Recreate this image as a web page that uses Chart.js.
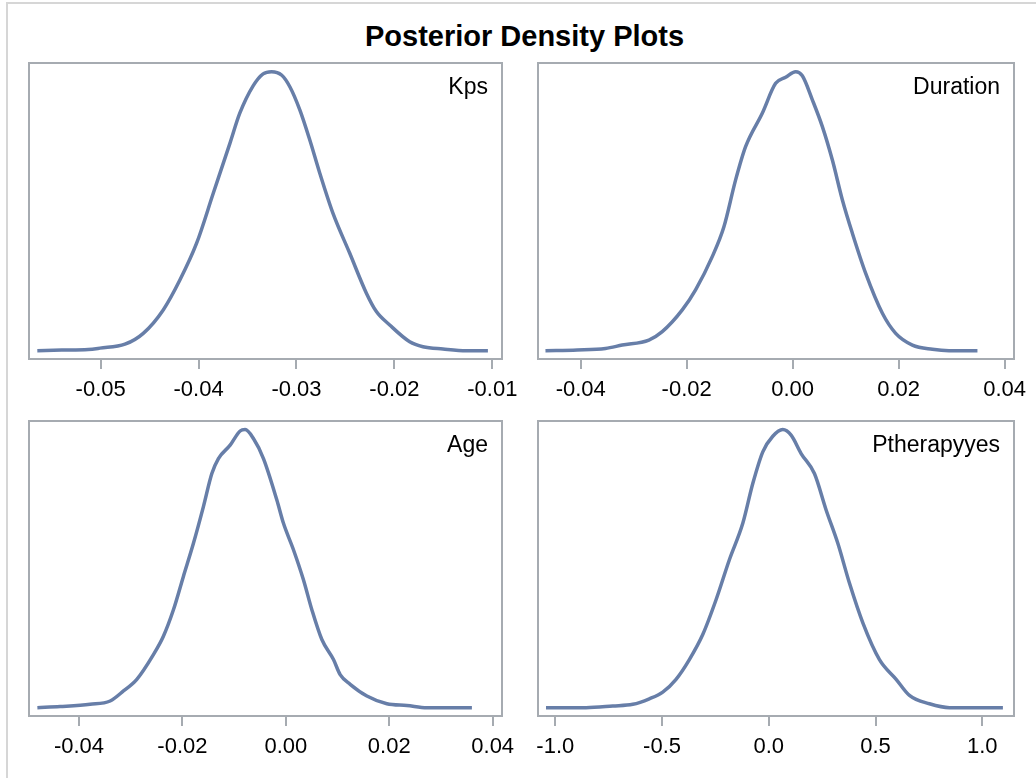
<!DOCTYPE html>
<html>
<head>
<meta charset="utf-8">
<script src="https://cdn.jsdelivr.net/npm/chart.js@4.4.0/dist/chart.umd.min.js"></script>
<style>
  body { margin: 0; background: #fff; width: 1036px; height: 778px; overflow: hidden; position: relative; font-family: "Liberation Sans", Arial, sans-serif; }
  #frame { position: absolute; left: 6px; top: 2px; width: 1100px; height: 900px; border-left: 2px solid #d6d6d6; border-top: 2px solid #d6d6d6; }
  #title { position: absolute; left: 0; width: 1049px; top: 22px; text-align: center; font-size: 29px; line-height: 29px; font-weight: bold; color: #000; }
  canvas { position: absolute; }
</style>
</head>
<body>
<div id="frame"></div>
<div id="title">Posterior Density Plots</div>
<canvas id="c1" style="left:0;top:50px" width="540" height="349"></canvas>
<canvas id="c2" style="left:509px;top:50px" width="527" height="349"></canvas>
<canvas id="c3" style="left:0;top:408px" width="540" height="348"></canvas>
<canvas id="c4" style="left:509px;top:408px" width="527" height="348"></canvas>
<script>
// density curves, x = parameter value, y = density scaled so the peak is 1
var kpsX = [-0.05647, -0.05398, -0.05127, -0.05007, -0.04752, -0.04565, -0.04361, -0.04191, -0.0402, -0.0385, -0.0368, -0.03579, -0.03443, -0.03341, -0.03255, -0.03153, -0.03068, -0.02966, -0.02864, -0.02762, -0.02627, -0.02456, -0.02286, -0.02184, -0.02048, -0.01844, -0.01708, -0.01504, -0.01265, -0.01045];
var kpsY = [0, 0.002, 0.004, 0.009, 0.023, 0.062, 0.146, 0.253, 0.385, 0.564, 0.743, 0.851, 0.949, 0.992, 1.0, 0.988, 0.946, 0.863, 0.755, 0.636, 0.492, 0.349, 0.206, 0.140, 0.092, 0.032, 0.014, 0.006, 0, 0];

var durX = [-0.04665, -0.04066, -0.03532, -0.03217, -0.02713, -0.02461, -0.02083, -0.01832, -0.01517, -0.01297, -0.01076, -0.00888, -0.00573, -0.00321, -0.00132, 0.00057, 0.00183, 0.00372, 0.00561, 0.0075, 0.00939, 0.01127, 0.01379, 0.01694, 0.01945, 0.0226, 0.02638, 0.02952, 0.03488];
var durY = [0, 0.0025, 0.008, 0.020, 0.038, 0.068, 0.146, 0.218, 0.337, 0.444, 0.612, 0.731, 0.851, 0.958, 0.980, 1.0, 0.985, 0.899, 0.803, 0.683, 0.540, 0.421, 0.277, 0.134, 0.062, 0.020, 0.005, 0, 0];

var ageX = [-0.04805, -0.04366, -0.03785, -0.03398, -0.03141, -0.02882, -0.02561, -0.02368, -0.02174, -0.01981, -0.01787, -0.01594, -0.01431, -0.01304, -0.01077, -0.00884, -0.00787, -0.00627, -0.00433, -0.00174, -0.00046, 0.00147, 0.0034, 0.00503, 0.00696, 0.00921, 0.0105, 0.01244, 0.01567, 0.01954, 0.0234, 0.02727, 0.03598];
var ageY = [0, 0.004, 0.012, 0.024, 0.060, 0.102, 0.191, 0.257, 0.352, 0.472, 0.591, 0.723, 0.842, 0.896, 0.944, 0.995, 1.0, 0.968, 0.896, 0.747, 0.663, 0.568, 0.460, 0.352, 0.245, 0.173, 0.119, 0.084, 0.042, 0.014, 0.008, 0, 0];

var ptX = [-1.0436, -0.856, -0.731, -0.637, -0.5595, -0.4967, -0.4344, -0.372, -0.3093, -0.247, -0.1846, -0.1218, -0.075, -0.0281, 0.0187, 0.0656, 0.1045, 0.1514, 0.2137, 0.2685, 0.3233, 0.3777, 0.4405, 0.5183, 0.5965, 0.6589, 0.7526, 0.8463, 1.0965];
var ptY = [0, 0, 0.006, 0.012, 0.032, 0.056, 0.102, 0.173, 0.263, 0.388, 0.532, 0.663, 0.806, 0.920, 0.976, 1.0, 0.980, 0.914, 0.842, 0.711, 0.591, 0.448, 0.305, 0.173, 0.102, 0.044, 0.014, 0, 0];

var kpsTicks = [-0.05, -0.04, -0.03, -0.02, -0.01];
var durTicks = [-0.04, -0.02, 0.00, 0.02, 0.04];
var ageTicks = [-0.04, -0.02, 0.00, 0.02, 0.04];
var ptTicks = [-1.0, -0.5, 0.0, 0.5, 1.0];

var fontFam = '"Liberation Sans", Arial, sans-serif';
var lineColor = '#677ea8';
var boxColor = '#a6abb1';

// frame around plot area + label in the top right corner
var panelPlugin = {
    id: 'panel',
    afterDraw: function (chart) {
        var a = chart.chartArea, ctx = chart.ctx;
        ctx.save();
        ctx.strokeStyle = boxColor;
        ctx.lineWidth = 2;
        ctx.strokeRect(a.left, a.top, a.right - a.left, a.bottom - a.top);
        ctx.fillStyle = '#000';
        ctx.font = '23px ' + fontFam;
        ctx.textAlign = 'right';
        ctx.textBaseline = 'alphabetic';
        ctx.fillText(chart.options.plugins.panel.label, a.right - 14, a.top + 31);
        ctx.restore();
    }
};

function makePanel(id, label, xs, ys, ticks, xmin, xmax, decimals, pad) {
    var pts = xs.map(function (x, i) { return { x: x, y: ys[i] }; });
    new Chart(document.getElementById(id).getContext('2d'), {
        type: 'line',
        data: {
            datasets: [{
                data: pts,
                borderColor: lineColor,
                borderWidth: 3.5,
                pointRadius: 0,
                cubicInterpolationMode: 'monotone',
                fill: false
            }]
        },
        options: {
            responsive: false,
            animation: false,
            layout: { padding: pad },
            plugins: {
                legend: { display: false },
                tooltip: { enabled: false },
                panel: { label: label }
            },
            scales: {
                x: {
                    type: 'linear',
                    min: xmin,
                    max: xmax,
                    afterBuildTicks: function (s) { s.ticks = ticks.map(function (v) { return { value: v }; }); },
                    afterFit: function (s) { s.height = 40; },
                    border: { display: false },
                    grid: { display: true, drawOnChartArea: false, drawTicks: true, tickLength: 10, color: boxColor, lineWidth: 2 },
                    ticks: {
                        padding: 8,
                        color: '#000',
                        font: { family: fontFam, size: 22 },
                        maxRotation: 0,
                        autoSkip: false,
                        callback: function (v) { return v.toFixed(decimals); }
                    }
                },
                y: { display: false, min: -0.03, max: 1.031 }
            }
        },
        plugins: [panelPlugin]
    });
}

makePanel('c1', 'Kps', kpsX, kpsY, kpsTicks, -0.05732, -0.00901, 2, { left: 29, right: 38, top: 13, bottom: 0 });
makePanel('c2', 'Duration', durX, durY, durTicks, -0.04806, 0.04178, 2, { left: 29, right: 22, top: 13, bottom: 0 });
makePanel('c3', 'Age', ageX, ageY, ageTicks, -0.04967, 0.0418, 2, { left: 29, right: 38, top: 13, bottom: 0 });
makePanel('c4', 'Ptherapyyes', ptX, ptY, ptTicks, -1.081, 1.1485, 1, { left: 29, right: 22, top: 13, bottom: 0 });
</script>
</body>
</html>
